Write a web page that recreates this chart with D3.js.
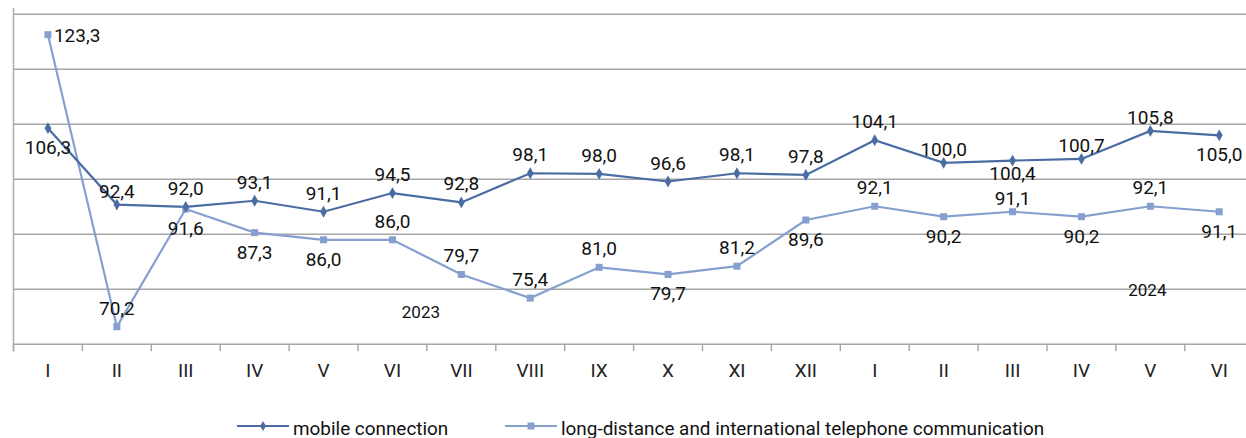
<!DOCTYPE html>
<html>
<head>
<meta charset="utf-8">
<script src="https://cdn.jsdelivr.net/npm/d3@7"></script>
<style>
  html, body { margin: 0; padding: 0; background: #fff; }
  svg { display: block; font-family: Roboto, "Noto Sans", sans-serif; }
</style>
</head>
<body>
<svg id="chart" width="1246" height="438"></svg>
<script>
// ---- data ----
const months = ["I","II","III","IV","V","VI","VII","VIII","IX","X","XI","XII","I","II","III","IV","V","VI"];
const mobile = [106.3, 92.4, 92.0, 93.1, 91.1, 94.5, 92.8, 98.1, 98.0, 96.6, 98.1, 97.8, 104.1, 100.0, 100.4, 100.7, 105.8, 105.0];
const longDistance = [123.3, 70.2, 91.6, 87.3, 86.0, 86.0, 79.7, 75.4, 81.0, 79.7, 81.2, 89.6, 92.1, 90.2, 91.1, 90.2, 92.1, 91.1];
const years = ["2023", "2024"];
const seriesNames = ["mobile connection", "long-distance and international telephone communication"];
const yTicks = [67, 77, 87, 97, 107, 117, 127];

// label placement codes (t = above, tn = just above, b = below, bn = just below, r = right)
const mobileLabelPos = ["b","tn","t","t","t","t","t","t","t","t","t","t","t","tn","bn","tn","tn","b"];
const longLabelPos   = ["r","t","b","b","b","t","t","t","t","b","t","b","t","b","tn","b","t","b"];

// ---- layout ----
const svg = d3.select("#chart");
const plotLeft = 13.5, bandW = 68.9;
const plotTop = 14.3, plotBottom = 344.3;
const idx = d3.range(months.length);

const x = d3.scaleBand().domain(idx).range([plotLeft, plotLeft + bandW * months.length]).paddingInner(0).paddingOuter(0);
const y = d3.scaleLinear().domain([67, 127]).range([plotBottom, plotTop]);
const cx = i => x(i) + x.bandwidth() / 2;

const gridColor = "#a6a6a6";
const cMobile = "#4a6ca3";
const cLong = "#85a0cf";

// gridlines
svg.append("g")
  .selectAll("line")
  .data(yTicks.slice(1))
  .join("line")
  .attr("x1", plotLeft).attr("x2", 1246)
  .attr("y1", d => y(d)).attr("y2", d => y(d))
  .attr("stroke", gridColor).attr("stroke-width", 1.4);

// x axis
const xAxis = d3.axisBottom(x).tickSize(0).tickFormat(i => months[i]);
const gx = svg.append("g").attr("transform", `translate(0,${plotBottom})`).call(xAxis);
gx.select(".domain").remove();
gx.selectAll("text")
  .attr("font-size", 19).attr("fill", "#222").attr("dy", null).attr("y", 33)
  .style("font-family", "Roboto, sans-serif");

// bottom axis line & band boundary ticks
svg.append("line")
  .attr("x1", plotLeft).attr("x2", 1246).attr("y1", plotBottom).attr("y2", plotBottom)
  .attr("stroke", gridColor).attr("stroke-width", 1.6);
svg.append("g").selectAll("line")
  .data(d3.range(months.length + 1))
  .join("line")
  .attr("x1", i => plotLeft + i * x.bandwidth()).attr("x2", i => plotLeft + i * x.bandwidth())
  .attr("y1", plotBottom).attr("y2", plotBottom + 7)
  .attr("stroke", gridColor).attr("stroke-width", 1.4);

// y axis line (no labels)
svg.append("line")
  .attr("x1", plotLeft).attr("x2", plotLeft).attr("y1", 8).attr("y2", plotBottom + 7)
  .attr("stroke", gridColor).attr("stroke-width", 1.4);

// lines
const line = d3.line().x((d, i) => cx(i)).y(d => y(d));
svg.append("path").datum(longDistance).attr("d", line)
  .attr("fill", "none").attr("stroke", cLong).attr("stroke-width", 2.2);
svg.append("path").datum(mobile).attr("d", line)
  .attr("fill", "none").attr("stroke", cMobile).attr("stroke-width", 2.2);

// markers
svg.append("g").selectAll("rect").data(longDistance).join("rect")
  .attr("x", (d, i) => cx(i) - 3.5).attr("y", d => y(d) - 3.5)
  .attr("width", 7).attr("height", 7).attr("fill", cLong);
const diamond = d3.symbol().type(d3.symbolDiamond).size(40);
svg.append("g").selectAll("path").data(mobile).join("path")
  .attr("d", diamond)
  .attr("transform", (d, i) => `translate(${cx(i)},${y(d)})`)
  .attr("fill", cMobile);

// data labels
const fmt = v => v.toFixed(1).replace(".", ",");
const dyFor = { t: -12, tn: -7, b: 26, bn: 19, r: 7 };
function labels(data, pos) {
  svg.append("g").selectAll("text").data(data).join("text")
    .attr("x", (d, i) => pos[i] === "r" ? cx(i) + 6 : cx(i))
    .attr("y", (d, i) => y(d) + dyFor[pos[i]])
    .attr("text-anchor", (d, i) => pos[i] === "r" ? "start" : "middle")
    .attr("font-size", 19).attr("fill", "#111")
    .text(d => fmt(d));
}
labels(mobile, mobileLabelPos);
labels(longDistance, longLabelPos);

// year labels
svg.append("text").attr("x", (x(5) + x(6) + x.bandwidth()) / 2 - 6).attr("y", 318)
  .attr("text-anchor", "middle").attr("font-size", 17).attr("fill", "#111").text(years[0]);
svg.append("text").attr("x", x(16) + x.bandwidth() / 2 - 3).attr("y", 296)
  .attr("text-anchor", "middle").attr("font-size", 17).attr("fill", "#111").text(years[1]);

// legend
const legend = svg.append("g");
const legItems = [
  { name: seriesNames[0], color: cMobile, x0: 237, type: "diamond" },
  { name: seriesNames[1], color: cLong, x0: 505, type: "square" }
];
const ly = 426;
legItems.forEach(it => {
  legend.append("line").attr("x1", it.x0).attr("x2", it.x0 + 52).attr("y1", ly).attr("y2", ly)
    .attr("stroke", it.color).attr("stroke-width", 2.2);
  if (it.type === "diamond") {
    legend.append("path").attr("d", d3.symbol().type(d3.symbolDiamond).size(30)())
      .attr("transform", `translate(${it.x0 + 26},${ly})`).attr("fill", it.color);
  } else {
    legend.append("rect").attr("x", it.x0 + 26 - 3.5).attr("y", ly - 3.5)
      .attr("width", 7).attr("height", 7).attr("fill", it.color);
  }
  legend.append("text").attr("x", it.x0 + 56).attr("y", ly + 8.5)
    .attr("font-size", 18.9).attr("fill", "#111").text(it.name);
});
</script>
</body>
</html>
